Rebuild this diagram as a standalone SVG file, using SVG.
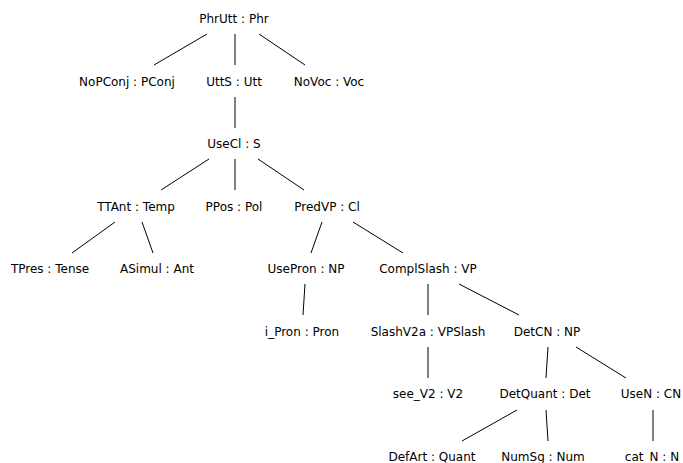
<svg xmlns="http://www.w3.org/2000/svg" width="683" height="463" viewBox="0 0 683 463">
<style>
text{font-family:"DejaVu Sans",sans-serif;font-size:12px;fill:#000;text-anchor:middle}
line{stroke:#000;stroke-width:1}
</style>
<rect width="683" height="463" fill="#fff"/>
<g id="connectors">
<line x1="207" y1="34" x2="154" y2="65"/>
<line x1="235" y1="34" x2="235" y2="65"/>
<line x1="259" y1="34" x2="305" y2="65"/>
<line x1="235" y1="97" x2="235" y2="128"/>
<line x1="209" y1="159" x2="161" y2="190"/>
<line x1="235" y1="159" x2="235" y2="190"/>
<line x1="258" y1="159" x2="304" y2="190"/>
<line x1="115" y1="222" x2="72" y2="253"/>
<line x1="142" y1="222" x2="153" y2="253"/>
<line x1="322" y1="222" x2="311" y2="253"/>
<line x1="353" y1="222" x2="403" y2="253"/>
<line x1="305" y1="284" x2="303" y2="315"/>
<line x1="428" y1="284" x2="428" y2="315"/>
<line x1="459" y1="284" x2="519" y2="315"/>
<line x1="428" y1="347" x2="428" y2="378"/>
<line x1="548" y1="347" x2="546" y2="378"/>
<line x1="576" y1="347" x2="626" y2="378"/>
<line x1="517" y1="410" x2="462" y2="441"/>
<line x1="546" y1="410" x2="548" y2="441"/>
<line x1="653" y1="410" x2="653" y2="441"/>
</g>
<g id="n-phrutt"><text x="234" y="23">PhrUtt : Phr</text></g>
<g id="n-nopconj"><text x="127" y="85.6">NoPConj : PConj</text></g>
<g id="n-utts"><text x="234" y="85.6">UttS : Utt</text></g>
<g id="n-novoc"><text x="329" y="85.6">NoVoc : Voc</text></g>
<g id="n-usecl"><text x="234" y="148.1">UseCl : S</text></g>
<g id="n-ttant"><text x="136" y="210.7">TTAnt : Temp</text></g>
<g id="n-ppos"><text x="234" y="210.7">PPos : Pol</text></g>
<g id="n-predvp"><text x="327" y="210.7">PredVP : Cl</text></g>
<g id="n-tpres"><text x="50" y="273.3">TPres : Tense</text></g>
<g id="n-asimul"><text x="157" y="273.3">ASimul : Ant</text></g>
<g id="n-usepron"><text x="306" y="273.3">UsePron : NP</text></g>
<g id="n-complslash"><text x="428" y="273.3">ComplSlash : VP</text></g>
<g id="n-ipron"><text x="302" y="335.9">i_Pron : Pron</text></g>
<g id="n-slashv2a"><text x="428" y="335.9">SlashV2a : VPSlash</text></g>
<g id="n-detcn"><text x="547" y="335.9">DetCN : NP</text></g>
<g id="n-seev2"><text x="428" y="398.4">see_V2 : V2</text></g>
<g id="n-detquant"><text x="545" y="398.4">DetQuant : Det</text></g>
<g id="n-usen"><text x="651" y="398.4">UseN : CN</text></g>
<g id="n-defart"><text x="432" y="461">DefArt : Quant</text></g>
<g id="n-numsg"><text x="543" y="461">NumSg : Num</text></g>
<g id="n-catn"><text x="652" y="461">cat_N : N</text></g>
</svg>
